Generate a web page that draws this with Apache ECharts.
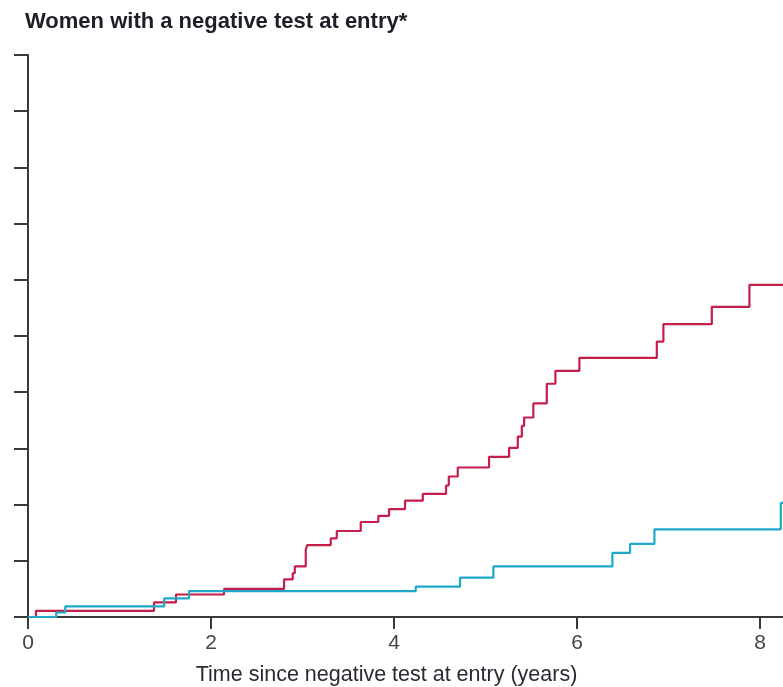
<!DOCTYPE html>
<html>
<head>
<meta charset="utf-8">
<script src="https://cdn.jsdelivr.net/npm/echarts@6/dist/echarts.min.js"></script>
<style>html,body{margin:0;padding:0;background:#fff}#c{width:783px;height:687px}</style>
</head>
<body>
<div id="c"></div>
<script>
const xTickLabels = [0, 2, 4, 6, 8];
const redTimes  = [0, 0.087, 1.377, 1.617, 2.142, 2.798, 2.893, 2.915, 3.035, 3.052, 3.308, 3.374, 3.636, 3.828, 3.945, 4.120, 4.314, 4.568, 4.598, 4.696, 5.038, 5.257, 5.352, 5.396, 5.421, 5.522, 5.669, 5.763, 6.025, 6.871, 6.943, 7.472, 7.883, 8.25];
const redValues = [0, 0.11, 0.26, 0.40, 0.50, 0.67, 0.78, 0.90, 1.20, 1.28, 1.40, 1.53, 1.69, 1.80, 1.92, 2.07, 2.19, 2.34, 2.50, 2.66, 2.85, 3.01, 3.21, 3.40, 3.55, 3.80, 4.15, 4.38, 4.61, 4.90, 5.21, 5.52, 5.91, 5.91];
const blueTimes  = [0, 0.309, 0.407, 1.488, 1.760, 4.237, 4.721, 5.085, 6.386, 6.579, 6.845, 8.226, 8.25];
const blueValues = [0, 0.08, 0.19, 0.33, 0.46, 0.54, 0.70, 0.90, 1.14, 1.30, 1.56, 2.03, 2.03];

const zip = (a, b) => a.map((t, i) => [t, b[i]]);
const chart = echarts.init(document.getElementById('c'), null, {renderer: 'canvas'});
const axisCol = '#3a3a3a';
chart.setOption({
  animation: false,
  title: {
    text: 'Women with a negative test at entry*',
    left: 20, top: 6,
    textStyle: {fontFamily: 'Liberation Sans', fontWeight: 'bold', fontSize: 22, color: '#1e1e28'}
  },
  grid: {left: 28, right: 0, top: 55, bottom: 70, containLabel: false, outerBoundsMode: 'none'},
  xAxis: {
    type: 'value', min: 0, max: 8.25,
    name: 'Time since negative test at entry (years)',
    nameLocation: 'middle', nameGap: 47,
    nameTextStyle: {fontFamily: 'Liberation Sans', fontSize: 21.5, color: '#2a2a35', padding: [0, 38, 0, 0]},
    axisLine: {show: true, lineStyle: {color: axisCol, width: 2}},
    axisTick: {show: true, length: 12, customValues: xTickLabels, lineStyle: {color: axisCol, width: 2}},
    axisLabel: {show: true, customValues: xTickLabels, margin: 16, fontFamily: 'Liberation Sans', fontSize: 21, color: '#444'},
    splitLine: {show: false}
  },
  yAxis: {
    type: 'value', min: 0, max: 10, interval: 1,
    axisLine: {show: true, lineStyle: {color: axisCol, width: 2}},
    axisTick: {show: true, length: 14, lineStyle: {color: axisCol, width: 2}},
    axisLabel: {show: false},
    splitLine: {show: false}
  },
  series: [
    {type: 'line', step: 'end', showSymbol: false, symbol: 'none', data: zip(redTimes, redValues),
     lineStyle: {color: '#c41e4a', width: 2.2}},
    {type: 'line', step: 'end', showSymbol: false, symbol: 'none', data: zip(blueTimes, blueValues),
     lineStyle: {color: '#1ea9cc', width: 2.2}}
  ]
});
</script>
</body>
</html>
